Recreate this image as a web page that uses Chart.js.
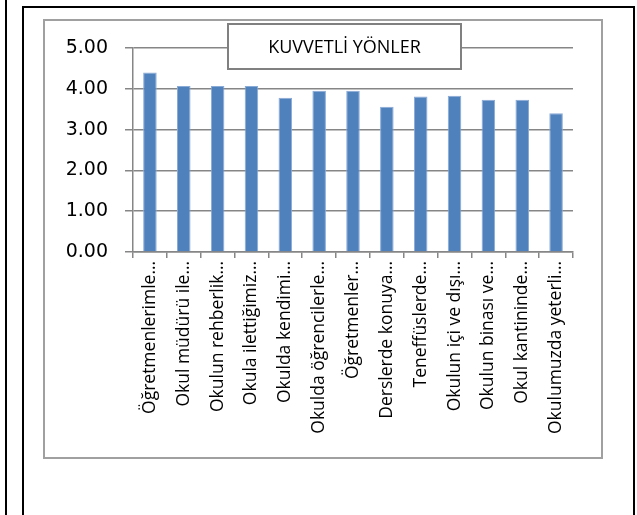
<!DOCTYPE html>
<html>
<head>
<meta charset="utf-8">
<script src="https://cdn.jsdelivr.net/npm/chart.js@4.4.0/dist/chart.umd.min.js"></script>
<style>
    body { margin: 0; background: #fff; }
    #wrap { position: relative; width: 637px; height: 515px; overflow: hidden; }
</style>
</head>
<body>
<div id="wrap">
    <div style="position:absolute;left:5px;top:0;width:2px;height:515px;background:#000"></div>
    <div style="position:absolute;left:22px;top:6px;width:609px;height:520px;border:2px solid #000;border-bottom:none"></div>
    <div style="position:absolute;left:43px;top:19px;width:556px;height:436px;border:2px solid #a0a0a0"></div>
    <canvas id="myCanvas" width="637" height="515" style="position:absolute;left:0;top:0"></canvas>
</div>
<script>
var chartTitle = "KUVVETLİ YÖNLER";

var categories = [
    "Öğretmenlerimle…",
    "Okul müdürü ile…",
    "Okulun rehberlik…",
    "Okula ilettiğimiz…",
    "Okulda kendimi…",
    "Okulda öğrencilerle…",
    "Öğretmenler…",
    "Derslerde konuya…",
    "Teneffüslerde…",
    "Okulun içi ve dışı…",
    "Okulun binası ve…",
    "Okul kantininde…",
    "Okulumuzda yeterli…"
];

var scores = [4.40, 4.07, 4.07, 4.07, 3.78, 3.95, 3.95, 3.56, 3.81, 3.83, 3.73, 3.73, 3.40];

var yTicks = [0, 1, 2, 3, 4, 5];

// white box with the title, sitting over the top gridline
var titleBox = {
    id: "titleBox",
    afterDraw: function (chart) {
        var ctx = chart.ctx;
        var a = chart.chartArea;
        var x = a.left + 95, y = a.top - 24, w = 233, h = 45;
        ctx.save();
        ctx.fillStyle = "#fff";
        ctx.fillRect(x, y, w, h);
        ctx.strokeStyle = "#808080";
        ctx.lineWidth = 2;
        ctx.strokeRect(x, y, w, h);
        ctx.fillStyle = "#000";
        ctx.font = '18px "Open Sans"';
        ctx.textAlign = "center";
        ctx.textBaseline = "middle";
        ctx.fillText(chartTitle, x + w / 2, y + h / 2 + 1);
        ctx.restore();
    }
};

new Chart(document.getElementById("myCanvas"), {
    type: "bar",
    data: {
        labels: categories,
        datasets: [
            {
                label: chartTitle,
                data: scores,
                backgroundColor: "#4F81BD",
                borderColor: "#8AAAD6",
                borderWidth: 1,
                barPercentage: 0.4,
                categoryPercentage: 1.0
            }
        ]
    },
    options: {
        responsive: false,
        animation: false,
        layout: { padding: { left: 0, right: 64, top: 48, bottom: 0 } },
        plugins: {
            legend: { display: false },
            tooltip: { enabled: false }
        },
        scales: {
            x: {
                afterFit: function (s) { s.height = 263; },
                grid: {
                    offset: true,
                    drawOnChartArea: false,
                    tickLength: 6,
                    color: "#868686",
                    lineWidth: 1.5
                },
                border: { color: "#868686", width: 1.5 },
                ticks: {
                    autoSkip: false,
                    minRotation: 90,
                    maxRotation: 90,
                    padding: 3,
                    color: "#000",
                    font: { family: "Open Sans", size: 17.5 }
                }
            },
            y: {
                min: 0,
                max: 5,
                afterFit: function (s) { s.width = 133; },
                afterBuildTicks: function (s) {
                    s.ticks = yTicks.map(function (v) { return { value: v }; });
                },
                grid: {
                    tickLength: 8,
                    color: "#868686",
                    lineWidth: 1.5
                },
                border: { color: "#868686", width: 1.5 },
                ticks: {
                    padding: 17,
                    color: "#000",
                    font: { family: "DejaVu Sans", size: 19 },
                    callback: function (v) { return Number(v).toFixed(2); }
                }
            }
        }
    },
    plugins: [titleBox]
});
</script>
</body>
</html>
